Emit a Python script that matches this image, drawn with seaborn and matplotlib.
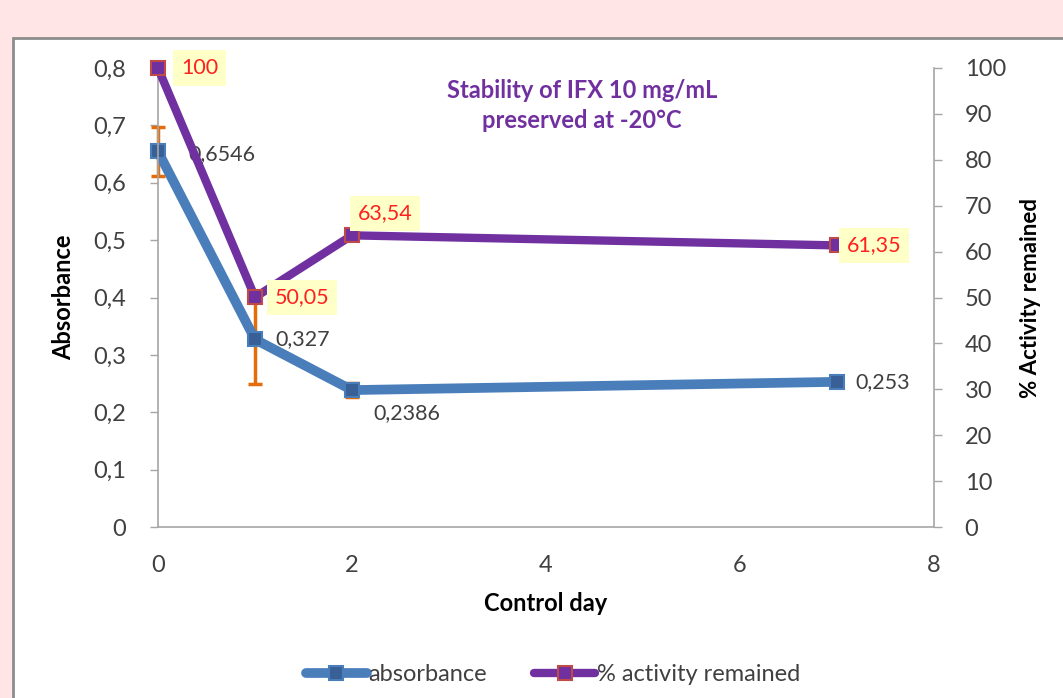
import matplotlib
matplotlib.use("Agg")
import matplotlib.pyplot as plt
import seaborn as sns
import pandas as pd
from matplotlib.patches import Rectangle
from matplotlib.ticker import FuncFormatter, MultipleLocator

# data
days = [0, 1, 2, 7]
absorbance = [0.6546, 0.327, 0.2386, 0.253]
absorbance_err = [0.043, 0.077, 0.012, 0.002]
activity = [100, 50.05, 63.54, 61.35]
abs_labels = ["0,6546", "0,327", "0,2386", "0,253"]
act_labels = ["100", "50,05", "63,54", "61,35"]

# label offsets in pixels (dx, dy) relative to each point
abs_offsets = [(30, -3), (20, 0), (21, -23), (18, 0)]
act_offsets = [(23, 0), (20, 0), (6, 22), (10, 0)]

BLUE = "#4A7EBB"
BLUE_DARK = "#386096"
PURPLE = "#7030A0"
RED_EDGE = "#BE4B48"
ORANGE = "#E46C0A"

sns.set_style("white")
plt.rcParams["font.family"] = ["Lato", "DejaVu Sans"]

fig = plt.figure(figsize=(10.63, 6.98), dpi=100)
fig.patch.set_facecolor("#FFE5E5")
# white chart panel with grey border
panel_left, panel_top = 13 / 1063, 1 - 38 / 698
fig.patches.append(Rectangle((panel_left, -0.01), 1.1, panel_top + 0.01, transform=fig.transFigure,
                             facecolor="white", edgecolor="#8C8C8C", linewidth=2, zorder=-5))

ax = fig.add_axes([158 / 1063, 1 - 527 / 698, (934 - 158) / 1063, (527 - 68) / 698])
ax.set_facecolor("none")
ax2 = ax.twinx()
ax2.set_facecolor("none")

df = pd.DataFrame({"day": days, "absorbance": absorbance, "activity": activity})

eb = ax.errorbar(days, absorbance, yerr=absorbance_err, fmt="none", ecolor=ORANGE,
                 elinewidth=2.5, capsize=5, capthick=2.5, zorder=1)
for part in eb.get_children():
    part.set_clip_on(False)
sns.lineplot(data=df, x="day", y="absorbance", ax=ax, color=BLUE, linewidth=7,
             marker="s", markersize=10, markerfacecolor=BLUE_DARK, markeredgecolor=BLUE,
             markeredgewidth=1.5, solid_capstyle="round", label="absorbance", legend=False, zorder=2)
sns.lineplot(data=df, x="day", y="activity", ax=ax2, color=PURPLE, linewidth=6,
             marker="s", markersize=10, markerfacecolor=PURPLE, markeredgecolor=RED_EDGE,
             markeredgewidth=1.5, solid_capstyle="round", label="% activity remained", legend=False)
for line in ax.lines + ax2.lines:
    line.set_clip_on(False)

ax.set_xlim(0, 8)
ax.set_ylim(0, 0.8)
ax2.set_ylim(0, 100)
ax.xaxis.set_major_locator(MultipleLocator(2))
ax.yaxis.set_major_locator(MultipleLocator(0.1))
ax2.yaxis.set_major_locator(MultipleLocator(10))
ax.yaxis.set_major_formatter(FuncFormatter(lambda v, p: ("%.1f" % v).replace(".", ",") if v else "0"))

for a in (ax, ax2):
    for s in a.spines.values():
        s.set_visible(False)
    a.tick_params(labelsize=17, colors="#404040", length=6, width=1, color="#A6A6A6")
ax.spines["left"].set_visible(True)
ax.spines["bottom"].set_visible(True)
ax2.spines["right"].set_visible(True)
for s in (ax.spines["left"], ax.spines["bottom"], ax2.spines["right"]):
    s.set_color("#A6A6A6")
    s.set_linewidth(1.2)
ax.tick_params(axis="x", direction="inout", length=10, pad=15)
ax.tick_params(axis="y", direction="out", pad=17)
ax2.tick_params(axis="y", direction="out", pad=16)

ax.set_xlabel("Control day", fontsize=17, fontweight="bold", labelpad=12, color="black")
ax.set_ylabel("Absorbance", fontsize=17, fontweight="bold", labelpad=13, color="black")
ax2.set_ylabel("% Activity remained", fontsize=16, fontweight="bold", labelpad=10, color="black")

for x, y, t, (dx, dy) in zip(days, absorbance, abs_labels, abs_offsets):
    ax.annotate(t, (x, y), xytext=(dx, dy), textcoords="offset pixels", fontsize=15.5,
                color="#404040", ha="left", va="center", zorder=5)
for x, y, t, (dx, dy) in zip(days, activity, act_labels, act_offsets):
    ax2.annotate(t, (x, y), xytext=(dx, dy), textcoords="offset pixels", fontsize=15.5,
                 color="#FF2020", ha="left", va="center",
                 bbox=dict(boxstyle="square,pad=0.35", facecolor="#FFFFC8", edgecolor="none"))

ax2.text(0.546, 0.918, "Stability of IFX 10 mg/mL\npreserved at -20°C", transform=ax.transAxes,
         ha="center", va="center", fontsize=17, fontweight="bold", color=PURPLE, linespacing=1.4)

h1, l1 = ax.get_legend_handles_labels()
h2, l2 = ax2.get_legend_handles_labels()
fig.legend(h1 + h2, l1 + l2, loc="center", bbox_to_anchor=(0.52, 0.034), ncol=2, frameon=False,
           fontsize=17, handlelength=2.6, columnspacing=2.0, handletextpad=0.05,
           labelcolor="#404040")

fig.savefig("out.png", dpi=100, facecolor=fig.get_facecolor())
